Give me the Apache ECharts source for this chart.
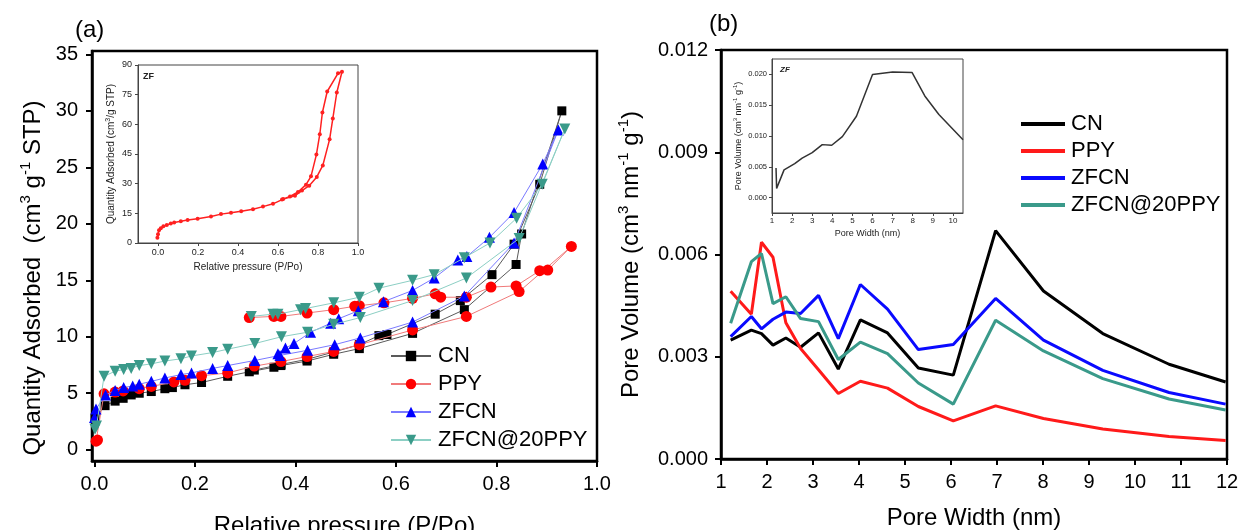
<!DOCTYPE html>
<html>
<head>
<meta charset="utf-8">
<script src="https://cdn.jsdelivr.net/npm/echarts@6/dist/echarts.min.js"></script>
<style>html,body{margin:0;padding:0;background:#fff}#c{width:1239px;height:530px}</style>
</head>
<body>
<div id="c"></div>
<script>
// ---------- Panel (a): N2 isotherms (x = P/Po, y = cm3 g-1 STP), adsorption then desorption ----------
const cnIso = [[0.001,2.8],[0.021,3.9],[0.041,4.3],[0.057,4.55],[0.073,4.85],[0.089,5.0],[0.113,5.15],[0.140,5.4],[0.155,5.5],[0.180,5.75],[0.213,5.95],[0.265,6.5],[0.308,6.9],[0.357,7.3],[0.371,7.45],[0.423,7.85],[0.476,8.45],[0.527,8.95],[0.633,10.3],[0.736,12.4],[0.839,16.4],[0.850,19.1],[0.930,30.0],[0.886,23.5],[0.835,18.2],[0.791,15.5],[0.728,13.2],[0.678,12.0],[0.582,10.2],[0.566,10.1],[0.527,9.3],[0.476,8.65],[0.423,8.0],[0.371,7.55],[0.318,7.05]];
const ppyIso = [[0.003,0.75],[0.006,0.85],[0.019,4.95],[0.041,5.1],[0.057,5.2],[0.089,5.4],[0.113,5.6],[0.158,6.0],[0.180,6.15],[0.213,6.55],[0.265,6.8],[0.318,7.4],[0.371,7.8],[0.423,8.25],[0.476,8.7],[0.527,9.3],[0.633,10.6],[0.740,11.8],[0.845,14.0],[0.949,18.0],[0.902,15.9],[0.886,15.85],[0.839,14.5],[0.789,14.4],[0.740,13.5],[0.689,13.5],[0.678,13.8],[0.633,13.4],[0.576,13.0],[0.527,12.75],[0.518,12.7],[0.476,12.4],[0.423,12.1],[0.371,11.8],[0.357,11.8],[0.308,11.7]];
const zfcnIso = [[0.000,2.85],[0.003,3.6],[0.022,4.85],[0.041,5.25],[0.058,5.5],[0.076,5.65],[0.089,5.8],[0.113,6.05],[0.140,6.35],[0.172,6.65],[0.193,6.8],[0.235,7.2],[0.265,7.45],[0.319,7.9],[0.369,8.35],[0.424,8.8],[0.478,9.3],[0.529,9.9],[0.633,11.3],[0.736,13.6],[0.835,18.3],[0.923,28.3],[0.892,25.3],[0.835,21.0],[0.786,18.8],[0.741,17.1],[0.723,16.8],[0.676,15.2],[0.633,14.1],[0.575,13.1],[0.525,12.3],[0.486,11.6],[0.470,11.2],[0.430,10.4],[0.397,9.4],[0.380,9.0],[0.365,8.5]];
const zfcnPpyIso = [[0.001,1.8],[0.004,2.1],[0.019,6.5],[0.041,6.95],[0.058,7.1],[0.073,7.2],[0.089,7.45],[0.113,7.6],[0.140,7.85],[0.172,8.05],[0.193,8.3],[0.235,8.6],[0.265,8.9],[0.319,9.4],[0.372,10.0],[0.424,10.4],[0.476,11.1],[0.529,11.7],[0.633,13.2],[0.740,15.2],[0.845,18.7],[0.936,28.4],[0.891,23.5],[0.840,20.5],[0.787,18.3],[0.736,17.0],[0.676,15.5],[0.633,15.0],[0.566,14.3],[0.527,13.5],[0.476,13.0],[0.420,12.5],[0.410,12.4],[0.365,12.0],[0.355,12.0],[0.312,11.8]];
// inset (a): ZF isotherm
const zfAds = [[-0.003,2.6],[0.000,4.4],[0.005,6.4],[0.014,7.5],[0.027,8.5],[0.044,9.1],[0.064,9.8],[0.081,10.4],[0.114,11.0],[0.148,11.6],[0.198,12.3],[0.265,13.4],[0.315,14.6],[0.365,15.3],[0.416,16.1],[0.475,17.1],[0.525,18.4],[0.575,19.8],[0.626,22.2],[0.685,23.9],[0.720,26.5],[0.756,29.0],[0.794,33.4],[0.824,39.2],[0.858,52.4],[0.874,62.9],[0.894,76.1],[0.920,86.6]];
const zfDes = [[0.900,85.8],[0.846,76.6],[0.822,66.0],[0.809,55.0],[0.792,44.7],[0.765,33.7],[0.740,29.5],[0.700,25.8],[0.660,23.5],[0.620,22.0]];
const xTicksA = [0, 0.2, 0.4, 0.6, 0.8, 1.0];
const yTicksA = [0, 5, 10, 15, 20, 25, 30, 35];

// ---------- Panel (b): pore size distribution ----------
const poreWidth = [1.21, 1.66, 1.88, 2.13, 2.41, 2.73, 3.12, 3.55, 4.03, 4.62, 5.29, 6.05, 6.97, 8.01, 9.30, 10.74, 11.97];
const cnPSD   = [0.00349,0.00378,0.00368,0.00334,0.00355,0.00328,0.00370,0.00264,0.00408,0.00370,0.00267,0.00246,0.00670,0.00493,0.00368,0.00278,0.00226];
const ppyPSD  = [0.00492,0.00425,0.00636,0.00592,0.00400,0.00324,0.00262,0.00192,0.00228,0.00208,0.00154,0.00112,0.00156,0.00119,0.00088,0.00066,0.00054];
const zfcnPSD = [0.00359,0.00418,0.00382,0.00410,0.00431,0.00427,0.00480,0.00353,0.00512,0.00440,0.00321,0.00336,0.00471,0.00349,0.00260,0.00195,0.00161];
const zfcnPpyPSD = [0.00398,0.00579,0.00603,0.00456,0.00476,0.00412,0.00403,0.00292,0.00343,0.00309,0.00223,0.00161,0.00407,0.00317,0.00236,0.00176,0.00144];
// inset (b): ZF
const zfPoreWidth = [1.20, 1.23, 1.60, 2.13, 2.50, 3.00, 3.50, 3.97, 4.50, 5.20, 6.00, 7.00, 7.97, 8.60, 9.30, 10.50];
const zfPSD = [0.0048, 0.0015, 0.0045, 0.0055, 0.0064, 0.0073, 0.0086, 0.0085, 0.0099, 0.0132, 0.0200, 0.0204, 0.0203, 0.0165, 0.0135, 0.0094];
const yTicksInsetB = [0, 0.005, 0.010, 0.015, 0.020];

const names = ['CN', 'PPY', 'ZFCN', 'ZFCN@20PPY'];
const markColors = ['#000000', '#ff0000', '#0000ff', '#3a9a8a'];
const lineColorsA = ['#5a5a5a', '#f07a7a', '#7a7aff', '#8ccfc4'];
const lineColorsB = ['#000000', '#ff1a1a', '#0a0aff', '#3a9a8a'];

const FONT = '"Liberation Sans", Arial, Helvetica, sans-serif';
const zip = (xs, ys) => xs.map((x, i) => [x, ys[i]]);

function mainAxis(o) {
  return Object.assign({
    type: 'value',
    splitLine: { show: false },
    axisLine: { show: true, onZero: false, lineStyle: { color: '#000', width: 2.5 } },
    axisTick: { show: true, inside: false, length: 6, lineStyle: { color: '#000', width: 2 } },
    axisLabel: { color: '#000', fontSize: 20, fontFamily: FONT, margin: 13 },
    nameLocation: 'middle',
    nameTextStyle: { color: '#000', fontSize: 24, fontFamily: FONT }
  }, o);
}
function insetAxis(o) {
  return Object.assign({
    type: 'value',
    splitLine: { show: false },
    axisLine: { show: true, onZero: false, lineStyle: { color: '#444', width: 1 } },
    axisTick: { show: true, inside: false, length: 3, lineStyle: { color: '#444', width: 1 } },
    axisLabel: { color: '#222', fontSize: 9, fontFamily: FONT, margin: 5 },
    nameLocation: 'middle',
    nameTextStyle: { color: '#222', fontSize: 10, fontFamily: FONT }
  }, o);
}
const supRich = (fs) => ({ s: { fontSize: fs, verticalAlign: 'top', fontFamily: FONT } });

const chart = echarts.init(document.getElementById('c'), null, { renderer: 'canvas' });

const seriesA = [cnIso, ppyIso, zfcnIso, zfcnPpyIso].map((d, i) => ({
  name: names[i], type: 'line', xAxisIndex: 0, yAxisIndex: 0, data: d,
  symbol: ['rect', 'circle', 'triangle', 'triangle'][i],
  symbolSize: [9, 11, 11, 11][i],
  symbolRotate: i === 3 ? 180 : 0,
  itemStyle: { color: markColors[i] },
  lineStyle: { color: lineColorsA[i], width: 1 },
  z: 2 + i
}));
const seriesB = [cnPSD, ppyPSD, zfcnPSD, zfcnPpyPSD].map((d, i) => ({
  name: names[i] + ' (b)', type: 'line', xAxisIndex: 2, yAxisIndex: 2, data: zip(poreWidth, d),
  symbol: 'none', itemStyle: { color: lineColorsB[i] },
  lineStyle: { color: lineColorsB[i], width: 3 }
}));

const gridBase = { show: true, outerBoundsMode: 'none', containLabel: false };

chart.setOption({
  animation: false,
  backgroundColor: '#fff',
  textStyle: { fontFamily: FONT },
  grid: [
    Object.assign({ left: 92, top: 51, width: 505, height: 410, borderColor: '#000', borderWidth: 2.5, backgroundColor: 'transparent' }, gridBase),
    Object.assign({ left: 138, top: 65, width: 220, height: 178, borderColor: '#444', borderWidth: 1, backgroundColor: '#fff' }, gridBase),
    Object.assign({ left: 721, top: 50, width: 506, height: 409, borderColor: '#000', borderWidth: 2.5, backgroundColor: 'transparent' }, gridBase),
    Object.assign({ left: 772, top: 59, width: 191, height: 154, borderColor: '#444', borderWidth: 1, backgroundColor: '#fff' }, gridBase)
  ],
  xAxis: [
    mainAxis({ gridIndex: 0, min: -0.005, max: 1.0,
      axisTick: { show: true, customValues: xTicksA, length: 6, lineStyle: { color: '#000', width: 2 } },
      axisLabel: { customValues: xTicksA, formatter: v => (+v).toFixed(1), color: '#000', fontSize: 20, fontFamily: FONT, margin: 13 },
      name: 'Relative pressure (P/Po)', nameGap: 53 }),
    insetAxis({ gridIndex: 1, min: -0.1, max: 1.0,
      axisTick: { show: true, customValues: xTicksA, length: 3, lineStyle: { color: '#444', width: 1 } },
      axisLabel: { customValues: xTicksA, formatter: v => (+v).toFixed(1), color: '#222', fontSize: 9, fontFamily: FONT, margin: 5 },
      name: 'Relative pressure (P/Po)', nameGap: 19 }),
    mainAxis({ gridIndex: 2, min: 1, max: 12, interval: 1, name: 'Pore Width (nm)', nameGap: 47 }),
    insetAxis({ gridIndex: 3, min: 1, max: 10.5, interval: 1,
      axisLabel: { color: '#222', fontSize: 8, fontFamily: FONT, margin: 4, showMaxLabel: false },
      name: 'Pore Width (nm)', nameGap: 16, nameTextStyle: { color: '#222', fontSize: 9, fontFamily: FONT } })
  ],
  yAxis: [
    mainAxis({ gridIndex: 0, min: -1, max: 35.3,
      axisTick: { show: true, customValues: yTicksA, length: 6, lineStyle: { color: '#000', width: 2 } },
      axisLabel: { customValues: yTicksA, color: '#000', fontSize: 20, fontFamily: FONT, margin: 14 },
      name: 'Quantity Adsorbed  (cm{s|3} g{s|-1} STP)', nameGap: 44,
      nameTextStyle: { color: '#000', fontSize: 24, fontFamily: FONT, lineHeight: 30, padding: [0, 44, 0, 0], rich: supRich(15) } }),
    insetAxis({ gridIndex: 1, min: 0, max: 90, interval: 15,
      axisLabel: { color: '#222', fontSize: 9, fontFamily: FONT, margin: 6 },
      name: 'Quantity Adsorbed (cm{s|3}/g STP)', nameGap: 20,
      nameTextStyle: { color: '#222', fontSize: 10, fontFamily: FONT, lineHeight: 13, rich: supRich(7) } }),
    mainAxis({ gridIndex: 2, min: 0, max: 0.012, interval: 0.003,
      axisLabel: { formatter: v => (+v).toFixed(3), color: '#000', fontSize: 20, fontFamily: FONT, margin: 13 },
      name: 'Pore Volume (cm{s|3} nm{s|-1} g{s|-1})', nameGap: 75,
      nameTextStyle: { color: '#000', fontSize: 24, fontFamily: FONT, lineHeight: 30, rich: supRich(15) } }),
    insetAxis({ gridIndex: 3, min: -0.0025, max: 0.0225,
      axisTick: { show: true, customValues: yTicksInsetB, length: 3, lineStyle: { color: '#444', width: 1 } },
      axisLabel: { customValues: yTicksInsetB, formatter: v => (+v).toFixed(3), color: '#222', fontSize: 7.5, fontFamily: FONT, margin: 5 },
      name: 'Pore Volume (cm{s|3} nm{s|-1} g{s|-1})', nameGap: 26,
      nameTextStyle: { color: '#222', fontSize: 9, fontFamily: FONT, lineHeight: 12, rich: supRich(6) } })
  ],
  legend: [
    { data: names, orient: 'vertical', left: 390, top: 344, padding: 0, itemWidth: 40, itemHeight: 13, itemGap: 4,
      selectedMode: false, textStyle: { fontSize: 22, color: '#000', fontFamily: FONT, lineHeight: 24, padding: [0, 0, 0, 2] } },
    { data: names.map(n => n + ' (b)'), formatter: n => n.replace(' (b)', ''), orient: 'vertical', left: 1021, top: 112, padding: 0,
      icon: 'rect', itemWidth: 44, itemHeight: 4, itemGap: 3, selectedMode: false,
      textStyle: { fontSize: 22, color: '#000', fontFamily: FONT, lineHeight: 24, padding: [0, 0, 0, 1] } }
  ],
  graphic: [
    { type: 'text', left: 75, top: 18, style: { text: '(a)', fontSize: 24, fill: '#000', fontFamily: FONT } },
    { type: 'text', left: 709, top: 12, style: { text: '(b)', fontSize: 24, fill: '#000', fontFamily: FONT } },
    { type: 'text', left: 143, top: 72, style: { text: 'ZF', fontSize: 9, fontWeight: 'bold', fill: '#222', fontFamily: FONT } },
    { type: 'text', left: 780, top: 66, style: { text: 'ZF', fontSize: 8, fontWeight: 'bold', fontStyle: 'italic', fill: '#222', fontFamily: FONT } }
  ],
  series: seriesA.concat([
    { name: 'ZF', type: 'line', xAxisIndex: 1, yAxisIndex: 1, data: zfAds.concat(zfDes),
      symbol: 'circle', symbolSize: 4, itemStyle: { color: '#ff2020' }, lineStyle: { color: '#ff2020', width: 1.5 } }
  ]).concat(seriesB).concat([
    { name: 'ZF PSD', type: 'line', xAxisIndex: 3, yAxisIndex: 3, data: zip(zfPoreWidth, zfPSD),
      symbol: 'none', lineStyle: { color: '#333', width: 1.5 }, itemStyle: { color: '#333' } }
  ])
});
</script>
</body>
</html>
